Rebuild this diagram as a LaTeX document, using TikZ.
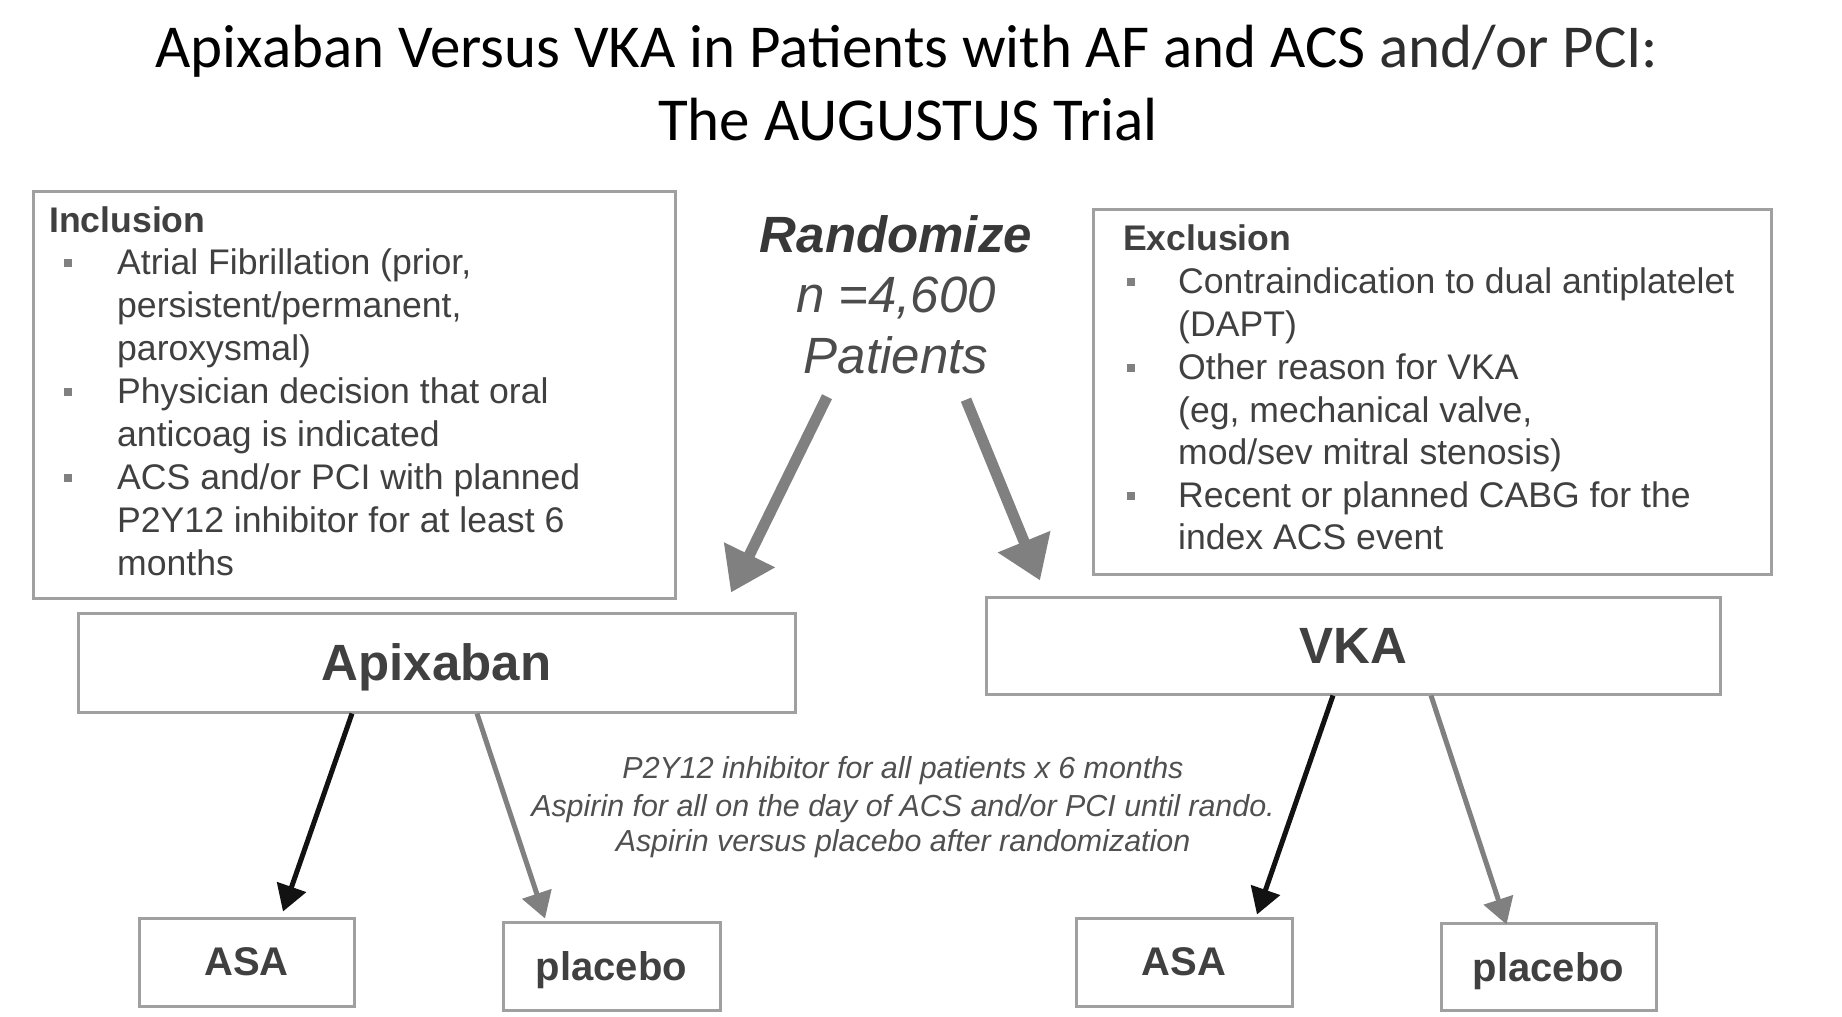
\documentclass[tikz,border=0pt]{standalone}
\usepackage{fontspec}
\setmainfont{Liberation Sans}
\newfontfamily\titlefont{Carlito}
\usetikzlibrary{arrows.meta}
\definecolor{boxgray}{HTML}{A0A0A0}
\definecolor{txt}{HTML}{404040}
\definecolor{bulgray}{HTML}{808080}
\definecolor{arrgray}{HTML}{808080}
\definecolor{midtxt}{HTML}{505050}
\begin{document}
\begin{tikzpicture}[x=1pt,y=-1pt,
  box/.style={draw=boxgray,line width=3pt,rectangle,inner sep=0pt,fill=white},
  body/.style={anchor=base west,inner sep=0pt,text=txt,font=\fontsize{35.6}{42}\selectfont},
  head/.style={anchor=base west,inner sep=0pt,text=txt,font=\fontsize{35.6}{42}\selectfont\bfseries},
  bul/.style={rectangle,fill=bulgray,minimum size=8pt,inner sep=0pt},
  rnd/.style={anchor=base,inner sep=0pt,font=\fontsize{51}{60}\selectfont\itshape},
  arm/.style={text=txt,text depth=0pt,font=\fontsize{51}{60}\selectfont\bfseries},
  sub/.style={text=txt,text depth=0pt,font=\fontsize{40}{48}\selectfont\bfseries},
  mid/.style={anchor=base,inner sep=0pt,text=midtxt,font=\fontsize{30.4}{36}\selectfont\itshape},
  bigarrow/.style={draw=arrgray,line width=11pt,-{Triangle[length=42pt,width=54pt]}},
  blackarrow/.style={draw=black!93,line width=5pt,-{Triangle[length=26pt,width=30pt]}},
  grayarrow/.style={draw=arrgray,line width=5pt,-{Triangle[length=26pt,width=30pt]}}
]
\useasboundingbox (0,0) rectangle (1842,1017);
\fill[white] (0,0) rectangle (1842,1017);

% Title
\node[anchor=base,inner sep=0pt,font=\fontsize{61}{72}\selectfont\titlefont] (t1) at (907,67)
  {Apixaban Versus VKA in Patients with AF and ACS \textcolor{black!82}{and/or PCI:}};
\node[anchor=base,inner sep=0pt,font=\fontsize{61}{72}\selectfont\titlefont] (t2) at (908,140)
  {The AUGUSTUS Trial};

% Inclusion box
\node[box,anchor=north west,minimum width=642pt,minimum height=407pt] (incl) at (32,190) {};
\node[head] (inclh) at (49,232) {Inclusion};
\node[bul] (ib1) at (68,263) {};
\node[bul] (ib2) at (68,392) {};
\node[bul] (ib3) at (68,478) {};
\node[body] (il1) at (117,274) {Atrial Fibrillation (prior,};
\node[body] (il2) at (117,317) {persistent/permanent,};
\node[body] (il3) at (117,360) {paroxysmal)};
\node[body] (il4) at (117,403) {Physician decision that oral};
\node[body] (il5) at (117,446) {anticoag is indicated};
\node[body] (il6) at (117,489) {ACS and/or PCI with planned};
\node[body] (il7) at (117,532) {P2Y12 inhibitor for at least 6};
\node[body] (il8) at (117,575) {months};

% Exclusion box
\node[box,anchor=north west,minimum width=678pt,minimum height=365pt] (excl) at (1092,208) {};
\node[head] (exclh) at (1123,250) {Exclusion};
\node[bul] (eb1) at (1131,282) {};
\node[bul] (eb2) at (1131,368) {};
\node[bul] (eb3) at (1131,496) {};
\node[body] (el1) at (1178,293) {Contraindication to dual antiplatelet};
\node[body] (el2) at (1178,336) {(DAPT)};
\node[body] (el3) at (1178,379) {Other reason for VKA};
\node[body] (el4) at (1178,422) {(eg, mechanical valve,};
\node[body] (el5) at (1178,464) {mod/sev mitral stenosis)};
\node[body] (el6) at (1178,507) {Recent or planned CABG for the};
\node[body] (el7) at (1178,549) {index ACS event};

% Randomize
\node[rnd,text=black!78,font=\fontsize{51}{60}\selectfont\bfseries\itshape] (r1) at (896,252) {Randomize};
\node[rnd,text=black!70] (r2) at (896,312) {n =4,600};
\node[rnd,text=black!70] (r3) at (896,373) {Patients};

% Arms
\node[box,arm,minimum width=717pt,minimum height=99pt] (api) at (436.5,662.5) {Apixaban};
\node[box,arm,minimum width=734pt,minimum height=97pt] (vka) at (1353,645.5) {VKA};

% Sub boxes
\node[box,sub,minimum width=215pt,minimum height=88pt] (asaL) at (246.5,962) {ASA};
\node[box,sub,minimum width=217pt,minimum height=88pt] (plL) at (611.5,966) {placebo};
\node[box,sub,minimum width=216pt,minimum height=88pt] (asaR) at (1184,962) {ASA};
\node[box,sub,minimum width=215pt,minimum height=87pt] (plR) at (1548.5,966.5) {placebo};

% Middle text
\node[mid] (m1) at (903,778) {P2Y12 inhibitor for all patients x 6 months};
\node[mid] (m2) at (903,816) {Aspirin for all on the day of ACS and/or PCI until rando.};
\node[mid] (m3) at (903,851) {Aspirin versus placebo after randomization};

% Randomization arrows
\draw[bigarrow] ([xshift=-69pt,yshift=-23pt]r3.south) -- ([xshift=294.5pt,yshift=19pt]api.north);
\draw[bigarrow] ([xshift=70pt,yshift=-26pt]r3.south) -- ([xshift=-313pt,yshift=15pt]vka.north);

% Arm arrows
\draw[blackarrow] ([xshift=-84.5pt]api.south) -- ([xshift=36.5pt,yshift=5pt]asaL.north);
\draw[grayarrow] ([xshift=40.5pt]api.south) -- ([xshift=-66.5pt,yshift=2pt]plL.north);
\draw[blackarrow] ([xshift=-20pt]vka.south) -- ([xshift=73pt,yshift=2pt]asaR.north);
\draw[grayarrow] ([xshift=78pt]vka.south) -- ([xshift=-42pt,yshift=-3pt]plR.north);
\end{tikzpicture}
\end{document}
